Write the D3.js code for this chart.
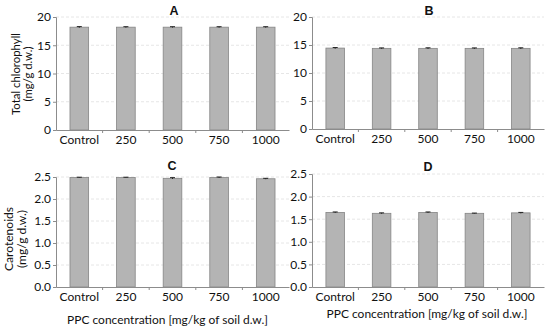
<!DOCTYPE html>
<html>
<head>
<meta charset="utf-8">
<script src="https://cdn.jsdelivr.net/npm/d3@7"></script>
<style>
  body { margin: 0; background: #fff; }
  svg { font-family: Lato, "Open Sans", sans-serif; }
</style>
</head>
<body>
<div id="chart"></div>
<script>
// shared categories
const categories = ["Control", "250", "500", "750", "1000"];

// panel values (mean and error)
const chlorophyllA = [18.2, 18.2, 18.2, 18.2, 18.2];
const chlorophyllAErr = [0.1, 0.08, 0.08, 0.08, 0.08];
const chlorophyllB = [14.45, 14.4, 14.4, 14.4, 14.4];
const chlorophyllBErr = [0.1, 0.08, 0.1, 0.08, 0.1];
const carotenoidsC = [2.49, 2.49, 2.47, 2.49, 2.46];
const carotenoidsCErr = [0.005, 0.005, 0.015, 0.01, 0.01];
const carotenoidsD = [1.65, 1.63, 1.65, 1.63, 1.64];
const carotenoidsDErr = [0.01, 0.01, 0.01, 0.005, 0.01];

const chlTicks = [0, 5, 10, 15, 20];
const carTicks = [0, 0.5, 1.0, 1.5, 2.0, 2.5];
const xTitleText = "PPC concentration [mg/kg of soil d.w.]";

const width = 550, height = 333;
const svg = d3.select("#chart").append("svg")
    .attr("width", width)
    .attr("height", height);

const panels = [
    {title: "A", values: chlorophyllA, err: chlorophyllAErr, ticks: chlTicks, max: 20, fmt: d3.format("d"),
     box: {left: 56, right: 289, top: 17, bottom: 130}, titlePos: [174, 15],
     yLabel: ["Total chlorophyll", "(mg/g d.w.)"], yLabelPos: {x: 20, cy: 74, gap: 12, len: 82}, xTitle: null},
    {title: "B", values: chlorophyllB, err: chlorophyllBErr, ticks: chlTicks, max: 20, fmt: d3.format("d"),
     box: {left: 312, right: 544, top: 17, bottom: 129}, titlePos: [429, 15], yLabel: null, xTitle: null},
    {title: "C", values: carotenoidsC, err: carotenoidsCErr, ticks: carTicks, max: 2.5, fmt: d3.format(".1f"),
     box: {left: 56, right: 289, top: 177, bottom: 287}, titlePos: [172, 170],
     yLabel: ["Carotenoids", "(mg/g d.w.)"], yLabelPos: {x: 13, cy: 239, gap: 13, len: 64}, xTitle: [167.5, 324]},
    {title: "D", values: carotenoidsD, err: carotenoidsDErr, ticks: carTicks, max: 2.5, fmt: d3.format(".1f"),
     box: {left: 312, right: 544, top: 174, bottom: 287}, titlePos: [428, 171], yLabel: null, xTitle: [427, 318]}
];

panels.forEach(p => drawPanel(p));

function fitFont(textSel, target, base) {
    const w = textSel.node().getComputedTextLength();
    textSel.attr("font-size", base * target / w);
}

function drawPanel(p) {
    const b = p.box;
    const x = d3.scaleBand().domain(categories).range([b.left, b.right]).paddingInner(0.6).paddingOuter(0.3);
    const xb = d3.scaleBand().domain(categories).range([b.left, b.right]);
    const y = d3.scaleLinear().domain([0, p.max]).range([b.bottom, b.top]);
    const g = svg.append("g");
    const rows = p.values.map((v, i) => ({cat: categories[i], v: v, e: p.err[i]}));

    // gridlines
    g.append("g").selectAll("line")
        .data(p.ticks.filter(t => t > 0))
        .join("line")
        .attr("x1", b.left).attr("x2", b.right)
        .attr("y1", d => y(d)).attr("y2", d => y(d))
        .attr("stroke", "#e6e6e6").attr("stroke-width", 1)
        .attr("stroke-dasharray", "3,2");

    // bars
    g.append("g").selectAll("rect")
        .data(rows)
        .join("rect")
        .attr("x", d => x(d.cat))
        .attr("width", x.bandwidth())
        .attr("y", d => y(d.v))
        .attr("height", d => b.bottom - y(d.v))
        .attr("fill", "#b4b4b4")
        .attr("stroke", "#858585")
        .attr("stroke-width", 0.8);

    // error bars
    const eb = g.append("g").selectAll("g")
        .data(rows)
        .join("g");
    eb.append("line")
        .attr("x1", d => x(d.cat) + x.bandwidth() / 2).attr("x2", d => x(d.cat) + x.bandwidth() / 2)
        .attr("y1", d => y(d.v - d.e)).attr("y2", d => y(d.v + d.e))
        .attr("stroke", "#222").attr("stroke-width", 1);
    eb.append("line")
        .attr("x1", d => x(d.cat) + x.bandwidth() / 2 - 2.5).attr("x2", d => x(d.cat) + x.bandwidth() / 2 + 2.5)
        .attr("y1", d => y(d.v + d.e)).attr("y2", d => y(d.v + d.e))
        .attr("stroke", "#222").attr("stroke-width", 1);

    // y axis
    const yAxis = g.append("g")
        .attr("transform", `translate(${b.left},0)`)
        .call(d3.axisLeft(y).tickValues(p.ticks).tickFormat(p.fmt).tickSize(3).tickPadding(2));
    yAxis.select(".domain").attr("stroke", "#8c8c8c");
    yAxis.selectAll(".tick line").attr("stroke", "#8c8c8c");
    yAxis.selectAll("text").attr("font-size", 12).attr("fill", "#111")
        .attr("font-family", "Lato, sans-serif");

    // x axis with ticks between categories
    const xAxis = g.append("g")
        .attr("transform", `translate(0,${b.bottom})`)
        .call(d3.axisBottom(xb).tickSizeOuter(0).tickSize(0).tickPadding(5));
    xAxis.select(".domain").attr("stroke", "#8c8c8c");
    xAxis.selectAll("text").attr("font-size", 12).attr("fill", "#111")
        .attr("font-family", "Lato, sans-serif");
    xAxis.append("g").selectAll("line")
        .data(categories.slice(1))
        .join("line")
        .attr("x1", d => xb(d)).attr("x2", d => xb(d))
        .attr("y1", 0).attr("y2", 3)
        .attr("stroke", "#8c8c8c");

    // panel title
    g.append("text")
        .attr("x", p.titlePos[0])
        .attr("y", p.titlePos[1])
        .attr("text-anchor", "middle")
        .attr("font-family", "'Liberation Sans', Arial, sans-serif")
        .attr("font-weight", "bold")
        .attr("font-size", 12.5)
        .attr("fill", "#111")
        .text(p.title);

    // y label, two lines
    if (p.yLabel) {
        const lp = p.yLabelPos;
        const lab = g.append("text")
            .attr("transform", `translate(${lp.x},${lp.cy}) rotate(-90)`)
            .attr("text-anchor", "middle")
            .attr("font-size", 12)
            .attr("fill", "#111");
        const t1 = lab.append("tspan").attr("x", 0).attr("dy", 0).text(p.yLabel[0]);
        lab.append("tspan").attr("x", 0).attr("dy", lp.gap).text(p.yLabel[1]);
        const w = t1.node().getComputedTextLength();
        lab.attr("font-size", 12 * lp.len / w);
    }

    // x title
    if (p.xTitle) {
        const xt = g.append("text")
            .attr("x", p.xTitle[0])
            .attr("y", p.xTitle[1])
            .attr("text-anchor", "middle")
            .attr("font-size", 12)
            .attr("fill", "#111")
            .text(xTitleText);
        fitFont(xt, 201, 12);
    }
}
</script>
</body>
</html>
